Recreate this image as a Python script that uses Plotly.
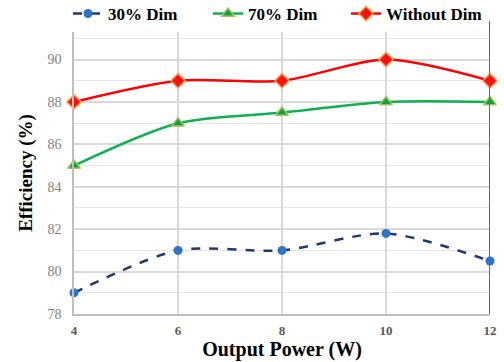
import plotly.graph_objects as go

power = [4, 6, 8, 10, 12]
dim30 = [79.0, 81.0, 81.0, 81.8, 80.5]
dim70 = [85.0, 87.0, 87.5, 88.0, 88.0]
no_dim = [88.0, 89.0, 89.0, 90.0, 89.0]
y_ticks = [78, 80, 82, 84, 86, 88, 90]
x_ticks = [4, 6, 8, 10, 12]

serif = "Liberation Serif"

fig = go.Figure()
fig.add_trace(go.Scatter(
    x=power, y=dim30, name="<b>30% Dim</b>", mode="lines+markers", cliponaxis=False,
    legend="legend",
    line=dict(color="#1F3A6E", width=2.5, dash="dash", shape="spline", smoothing=0.8),
    marker=dict(symbol="circle", size=9, color="#2E75C6", line=dict(color="#2E75C6", width=0)),
))
fig.add_trace(go.Scatter(
    x=power, y=dim70, name="<b>70% Dim</b>", mode="lines+markers", cliponaxis=False,
    legend="legend2",
    line=dict(color="#10B050", width=2.5, shape="spline", smoothing=0.8),
    marker=dict(symbol="triangle-up", size=11, color="#10A040", line=dict(color="#A6C060", width=1.5)),
))
fig.add_trace(go.Scatter(
    x=power, y=no_dim, name="<b>Without Dim</b>", mode="lines+markers", cliponaxis=False,
    legend="legend3",
    line=dict(color="#FF0000", width=2.5, shape="spline", smoothing=0.8),
    marker=dict(symbol="diamond", size=11, color="#FF1010", line=dict(color="#F5A050", width=1.5)),
))

fig.add_shape(type="line", xref="x", yref="paper", x0=12, x1=12, y0=0, y1=1.04,
              line=dict(color="#1F78D0", width=2))

def leg(xpx):
    return dict(orientation="h", x=xpx / 504, xref="container", xanchor="left",
                y=1 - 14 / 362, yanchor="middle", yref="container",
                font=dict(size=17, family=serif, color="black"),
                bgcolor="rgba(0,0,0,0)")

fig.update_layout(
    template="none",
    width=504, height=362,
    margin=dict(l=74, r=14, t=32, b=48, autoexpand=False),
    paper_bgcolor="white", plot_bgcolor="white",
    font=dict(family=serif, color="black"),
    showlegend=True,
    legend=leg(68), legend2=leg(208), legend3=leg(346),
    xaxis=dict(
        range=[4, 12], tickvals=x_ticks, ticktext=["<b>%d</b>" % v for v in x_ticks],
        showgrid=True, gridcolor="#D9D9D9", gridwidth=1.5,
        showline=True, linecolor="#BFBFBF", linewidth=1.5,
        ticks="", tickfont=dict(size=13, color="#595959", family=serif),
        ticklabelstandoff=4,
        title=dict(text="<b>Output Power (W)</b>", font=dict(size=20, family=serif, color="black"), standoff=2),
        zeroline=False,
    ),
    yaxis=dict(
        range=[78, 91.3], tickvals=y_ticks,
        showgrid=True, gridcolor="#D9D9D9", gridwidth=1.5,
        minor=dict(dtick=1, showgrid=True, gridcolor="#E6E6E6", gridwidth=1),
        showline=True, linecolor="#BFBFBF", linewidth=1.5,
        ticks="", tickfont=dict(size=14, color="#7F7F7F", family=serif),
        ticklabelstandoff=8,
        title=dict(text="<b>Efficiency (%)</b>", font=dict(size=19, family=serif, color="black"), standoff=10),
        zeroline=False,
    ),
)

fig.write_html("out.html")
